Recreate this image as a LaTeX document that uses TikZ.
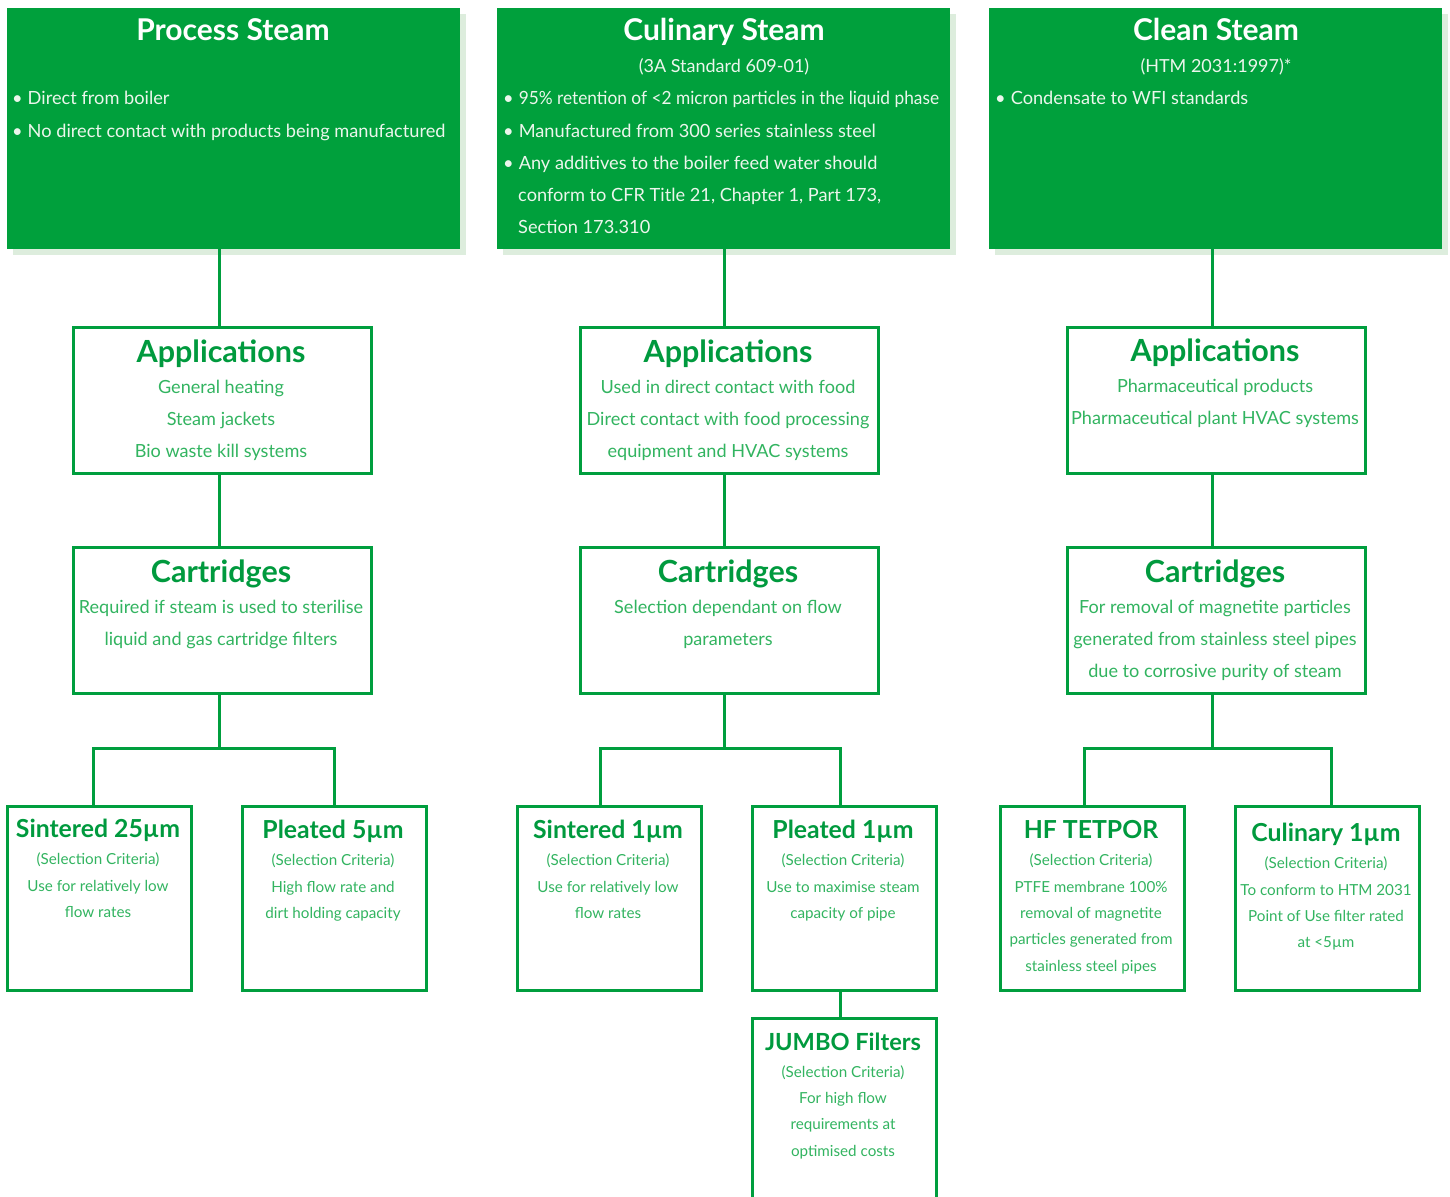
\documentclass[tikz,border=0pt]{standalone}
\usepackage{fontspec}
\setmainfont{Lato}
\usetikzlibrary{calc}
\definecolor{fillgreen}{RGB}{0,160,60}
\definecolor{linegreen}{RGB}{0,158,62}
\definecolor{titlegreen}{RGB}{0,154,62}
\definecolor{bodygreen}{RGB}{50,180,96}
\definecolor{shadowgreen}{RGB}{221,237,221}
\definecolor{lightwhite}{RGB}{236,246,236}
\tikzset{
  x=1pt, y=-1pt,
  topbox/.style={fill=fillgreen, draw=none, anchor=north west, inner sep=0pt, minimum width=453pt, minimum height=241pt},
  shadowbox/.style={fill=shadowgreen, draw=none, anchor=north west, inner sep=0pt, minimum width=453pt, minimum height=241pt},
  midbox/.style={draw=linegreen, line width=3pt, fill=white, anchor=north west, inner sep=0pt, minimum width=298pt, minimum height=146pt},
  lowbox/.style={draw=linegreen, line width=3pt, fill=white, anchor=north west, inner sep=0pt, minimum width=184pt, minimum height=184pt},
  conn/.style={draw=linegreen, line width=3pt},
  toptitle/.style={anchor=base, inner sep=0pt, text=white, font=\fontsize{30}{32}\selectfont\bfseries},
  topsub/.style={anchor=base, inner sep=0pt, text=lightwhite, font=\fontsize{18}{20}\selectfont},
  bullet/.style={anchor=base west, inner sep=0pt, text=lightwhite, font=\fontsize{18.2}{20}\selectfont},
  midtitle/.style={anchor=base, inner sep=0pt, text=titlegreen, font=\fontsize{30.5}{32}\selectfont\bfseries},
  midtext/.style={anchor=base, inner sep=0pt, text=bodygreen, font=\fontsize{18.1}{20}\selectfont},
  lowtitle/.style={anchor=base, inner sep=0pt, text=titlegreen, font=\fontsize{24.8}{26}\selectfont\bfseries},
  lowtext/.style={anchor=base, inner sep=0pt, text=bodygreen, font=\fontsize{15.2}{17}\selectfont},
}
\begin{document}
\begin{tikzpicture}
\useasboundingbox (0,0) rectangle (1450,1196);
% ---------- top boxes ----------
\node[shadowbox] (ps-sh) at (13,14) {};
\node[topbox] (ps) at (7,8) {};
\node[shadowbox] (cs-sh) at (503,14) {};
\node[topbox] (cs) at (497,8) {};
\node[shadowbox] (ks-sh) at (995,14) {};
\node[topbox] (ks) at (989,8) {};

\node[toptitle] (ps-t) at (233,41) {Process Steam};
\node[bullet] (ps-b1) at (12,105) {•\hspace{5pt}Direct from boiler};
\node[bullet] (ps-b2) at (12,137) {•\hspace{5pt}No direct contact with products being manufactured};

\node[toptitle] (cs-t) at (724,41) {Culinary Steam};
\node[topsub] (cs-s) at (724,73) {(3A Standard 609-01)};
\node[bullet] (cs-b1) at (503,105) {•\hspace{5pt}\scalebox{0.95}[1]{95\% retention of <2 micron particles in the liquid phase}};
\node[bullet] (cs-b2) at (503,137) {•\hspace{5pt}Manufactured from 300 series stainless steel};
\node[bullet] (cs-b3) at (503,169) {•\hspace{5pt}Any additives to the boiler feed water should};
\node[bullet] (cs-b4) at (518,201) {conform to CFR Title 21, Chapter 1, Part 173,};
\node[bullet] (cs-b5) at (518,233) {Section 173.310};

\node[toptitle] (ks-t) at (1216,41) {Clean Steam};
\node[topsub] (ks-s) at (1216,73) {(HTM 2031:1997)*};
\node[bullet] (ks-b1) at (995,105) {•\hspace{5pt}Condensate to WFI standards};

% ---------- applications ----------
\node[midbox] (pa) at (72,326) {};
\node[midbox] (ca) at (579,326) {};
\node[midbox] (ka) at (1066,326) {};

\node[midtitle] (pa-t) at (221,362) {Applications};
\node[midtext] (pa-1) at (221,393) {General heating};
\node[midtext] (pa-2) at (221,425) {Steam jackets};
\node[midtext] (pa-3) at (221,457) {Bio waste kill systems};

\node[midtitle] (ca-t) at (728,362) {Applications};
\node[midtext] (ca-1) at (728,393) {Used in direct contact with food};
\node[midtext] (ca-2) at (728,425) {Direct contact with food processing};
\node[midtext] (ca-3) at (728,457) {equipment and HVAC systems};

\node[midtitle] (ka-t) at (1215,361) {Applications};
\node[midtext] (ka-1) at (1215,392) {Pharmaceutical products};
\node[midtext] (ka-2) at (1215,424) {Pharmaceutical plant HVAC systems};

% ---------- cartridges ----------
\node[midbox] (pc) at (72,546) {};
\node[midbox] (cc) at (579,546) {};
\node[midbox] (kc) at (1066,546) {};

\node[midtitle] (pc-t) at (221,582) {Cartridges};
\node[midtext] (pc-1) at (221,613) {Required if steam is used to sterilise};
\node[midtext] (pc-2) at (221,645) {liquid and gas cartridge filters};

\node[midtitle] (cc-t) at (728,582) {Cartridges};
\node[midtext] (cc-1) at (728,613) {Selection dependant on flow};
\node[midtext] (cc-2) at (728,645) {parameters};

\node[midtitle] (kc-t) at (1215,582) {Cartridges};
\node[midtext] (kc-1) at (1215,613) {For removal of magnetite particles};
\node[midtext] (kc-2) at (1215,645) {generated from stainless steel pipes};
\node[midtext] (kc-3) at (1215,677) {due to corrosive purity of steam};

% ---------- filter boxes ----------
\node[lowbox] (s25) at (6,805) {};
\node[lowbox] (p5) at (241,805) {};
\node[lowbox] (s1) at (516,805) {};
\node[lowbox] (p1) at (751,805) {};
\node[lowbox] (hf) at (999,805) {};
\node[lowbox] (cu) at (1234,805) {};
\node[lowbox, minimum height=210pt] (jb) at (751,1017) {};

\node[lowtitle] (s25-t) at (98,837) {Sintered 25µm};
\node[lowtext] (s25-1) at (98,864) {(Selection Criteria)};
\node[lowtext] (s25-2) at (98,891) {Use for relatively low};
\node[lowtext] (s25-3) at (98,917) {flow rates};

\node[lowtitle] (p5-t) at (333,838) {Pleated 5µm};
\node[lowtext] (p5-1) at (333,865) {(Selection Criteria)};
\node[lowtext] (p5-2) at (333,892) {High flow rate and};
\node[lowtext] (p5-3) at (333,918) {dirt holding capacity};

\node[lowtitle] (s1-t) at (608,838) {Sintered 1µm};
\node[lowtext] (s1-1) at (608,865) {(Selection Criteria)};
\node[lowtext] (s1-2) at (608,892) {Use for relatively low};
\node[lowtext] (s1-3) at (608,918) {flow rates};

\node[lowtitle] (p1-t) at (843,838) {Pleated 1µm};
\node[lowtext] (p1-1) at (843,865) {(Selection Criteria)};
\node[lowtext] (p1-2) at (843,892) {Use to maximise steam};
\node[lowtext] (p1-3) at (843,918) {capacity of pipe};

\node[lowtitle] (hf-t) at (1091,838) {HF TETPOR};
\node[lowtext] (hf-1) at (1091,865) {(Selection Criteria)};
\node[lowtext] (hf-2) at (1091,892) {PTFE membrane 100\%};
\node[lowtext] (hf-3) at (1091,918) {removal of magnetite};
\node[lowtext] (hf-4) at (1091,944) {particles generated from};
\node[lowtext] (hf-5) at (1091,971) {stainless steel pipes};

\node[lowtitle] (cu-t) at (1326,841) {Culinary 1µm};
\node[lowtext] (cu-1) at (1326,868) {(Selection Criteria)};
\node[lowtext] (cu-2) at (1326,895) {To conform to HTM 2031};
\node[lowtext] (cu-3) at (1326,921) {Point of Use filter rated};
\node[lowtext] (cu-4) at (1326,947) {at <5µm};

\node[lowtitle, font=\fontsize{23.6}{26}\selectfont\bfseries] (jb-t) at (843,1050) {JUMBO Filters};
\node[lowtext] (jb-1) at (843,1077) {(Selection Criteria)};
\node[lowtext] (jb-2) at (843,1103) {For high flow};
\node[lowtext] (jb-3) at (843,1129) {requirements at};
\node[lowtext] (jb-4) at (843,1156) {optimised costs};

% ---------- connectors ----------
\coordinate (pj) at (219,748);
\coordinate (cj) at (724,748);
\coordinate (kj) at (1212,748);

\draw[conn] (ps.south -| pj) -- (pa.north -| pj);
\draw[conn] (pa.south -| pj) -- (pc.north -| pj);
\draw[conn] (pc.south -| pj) -- (pj);
\draw[conn] (s25.north -| 93,0) |- (pj) -| (p5.north -| 334,0);

\draw[conn] (cs.south -| cj) -- (ca.north -| cj);
\draw[conn] (ca.south -| cj) -- (cc.north -| cj);
\draw[conn] (cc.south -| cj) -- (cj);
\draw[conn] (s1.north -| 600,0) |- (cj) -| (p1.north -| 840,0);
\draw[conn] (p1.south -| 840,0) -- (jb.north -| 840,0);

\draw[conn] (ks.south -| kj) -- (ka.north -| kj);
\draw[conn] (ka.south -| kj) -- (kc.north -| kj);
\draw[conn] (kc.south -| kj) -- (kj);
\draw[conn] (hf.north -| 1084,0) |- (kj) -| (cu.north -| 1331,0);
\end{tikzpicture}
\end{document}
